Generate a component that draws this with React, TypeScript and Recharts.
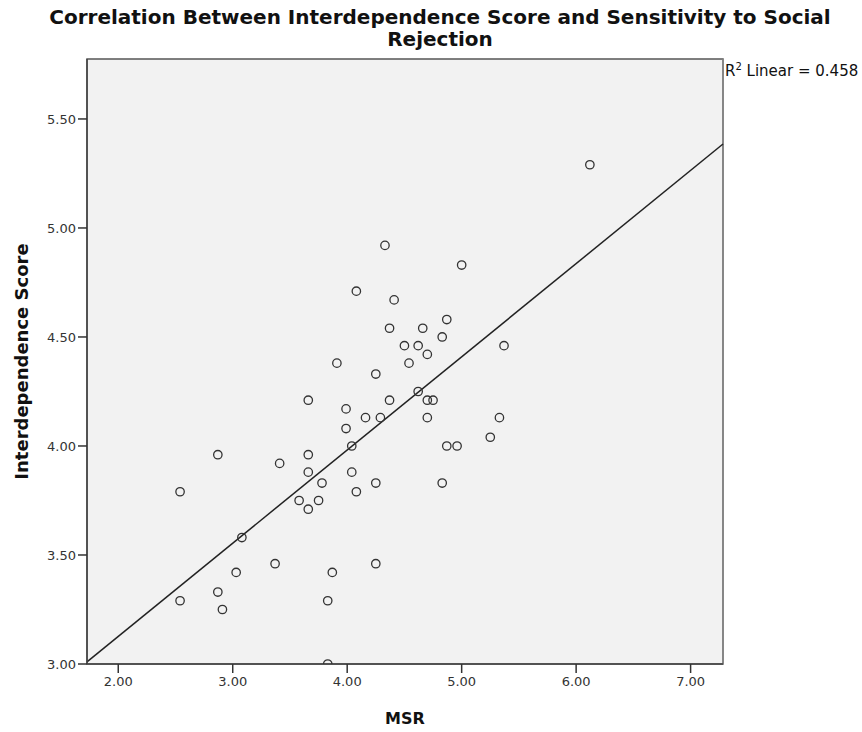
import { ScatterChart, Scatter, XAxis, YAxis, ReferenceArea, ReferenceLine, Label } from 'recharts';

// MSR (x) and interdependence score (y), one entry per participant
const msr = [
  2.87, 2.54, 3.41, 3.66, 3.66, 3.78, 3.58, 3.75, 3.66, 3.08, 3.37, 3.03, 3.87, 2.54, 2.87, 2.91, 3.83, 3.83,
  4.04, 5.25, 4.87, 4.96, 4.04, 4.25, 4.08, 4.83, 4.25,
  4.33, 5.0, 4.08, 4.41, 4.87, 4.37, 4.66, 4.83, 4.5, 4.62, 5.37, 4.7, 4.54, 3.91, 4.25, 4.62, 4.37, 4.7, 4.75,
  3.99, 4.16, 4.29, 4.7, 5.33, 3.99, 3.66, 6.12,
];
const interdependence = [
  3.96, 3.79, 3.92, 3.96, 3.88, 3.83, 3.75, 3.75, 3.71, 3.58, 3.46, 3.42, 3.42, 3.29, 3.33, 3.25, 3.29, 3.0,
  4.0, 4.04, 4.0, 4.0, 3.88, 3.83, 3.79, 3.83, 3.46,
  4.92, 4.83, 4.71, 4.67, 4.58, 4.54, 4.54, 4.5, 4.46, 4.46, 4.46, 4.42, 4.38, 4.38, 4.33, 4.25, 4.21, 4.21, 4.21,
  4.17, 4.13, 4.13, 4.13, 4.13, 4.08, 4.21, 5.29,
];

const xTicks = [2, 3, 4, 5, 6, 7];
const yTicks = [3, 3.5, 4, 4.5, 5, 5.5];
const xDomain = [1.727, 7.283];
const yDomain = [3, 5.775];

// fitted line end points, read at the frame edges
const fitStart = { x: 1.727, y: 3.01 };
const fitEnd = { x: 7.283, y: 5.385 };
const rSquared = '0.458';

const points = msr.map((x, i) => ({ msr: x, score: interdependence[i] }));

const tickFont = { fill: '#333', fontSize: 13, fontFamily: 'DejaVu Sans' };
const labelFont = { fill: '#111', fontSize: 16, fontWeight: 'bold', fontFamily: 'DejaVu Sans' };

const Ring = (props: any) => (
  <circle cx={props.cx} cy={props.cy} r={4.2} fill="none" stroke="#333" strokeWidth={1.3} />
);

export default function App() {
  return (
    <div style={{ position: 'absolute', left: 0, top: 0, width: 862, height: 732, background: '#fff' }}>
      <div
        style={{
          position: 'absolute',
          left: 40,
          top: 6,
          width: 800,
          textAlign: 'center',
          fontFamily: 'DejaVu Sans',
          fontWeight: 'bold',
          fontSize: 20,
          lineHeight: '22px',
          color: '#111',
        }}
      >
        Correlation Between Interdependence Score and Sensitivity to Social
        <br />
        Rejection
      </div>
      <div
        style={{
          position: 'absolute',
          left: 725,
          top: 61,
          fontFamily: 'DejaVu Sans',
          fontSize: 15,
          color: '#111',
          whiteSpace: 'nowrap',
        }}
      >
        R<sup style={{ fontSize: 10 }}>2</sup> Linear = {rSquared}
      </div>
      <ScatterChart width={862} height={732} margin={{ top: 59, right: 139, bottom: 0, left: 0 }}>
        <XAxis
          type="number"
          dataKey="msr"
          domain={xDomain}
          ticks={xTicks}
          allowDataOverflow
          tickFormatter={(v: number) => v.toFixed(2)}
          tick={tickFont}
          tickSize={9}
          tickMargin={4}
          height={68}
          axisLine={{ stroke: '#444', strokeWidth: 1.5 }}
          tickLine={{ stroke: '#333', strokeWidth: 1.5 }}
        >
          <Label value="MSR" position="insideBottom" offset={8} style={labelFont} />
        </XAxis>
        <YAxis
          type="number"
          dataKey="score"
          domain={yDomain}
          ticks={yTicks}
          allowDataOverflow
          tickFormatter={(v: number) => v.toFixed(2)}
          tick={tickFont}
          tickSize={9}
          tickMargin={2}
          width={87}
          axisLine={{ stroke: '#444', strokeWidth: 1.5 }}
          tickLine={{ stroke: '#333', strokeWidth: 1.5 }}
        >
          <Label
            value="Interdependence Score"
            angle={-90}
            position="insideLeft"
            offset={22}
            style={{ ...labelFont, fontSize: 18, textAnchor: 'middle' }}
          />
        </YAxis>
        <ReferenceArea
          x1={xDomain[0]}
          x2={xDomain[1]}
          y1={yDomain[0]}
          y2={yDomain[1]}
          fill="#f2f2f2"
          fillOpacity={1}
          stroke="#555"
          strokeWidth={1.5}
        />
        <ReferenceLine x={xDomain[1]} stroke="#8a8a8a" strokeWidth={1.5} />
        <ReferenceLine segment={[fitStart, fitEnd]} stroke="#222" strokeWidth={1.5} />
        <Scatter data={points} shape={Ring} isAnimationActive={false} />
      </ScatterChart>
    </div>
  );
}
